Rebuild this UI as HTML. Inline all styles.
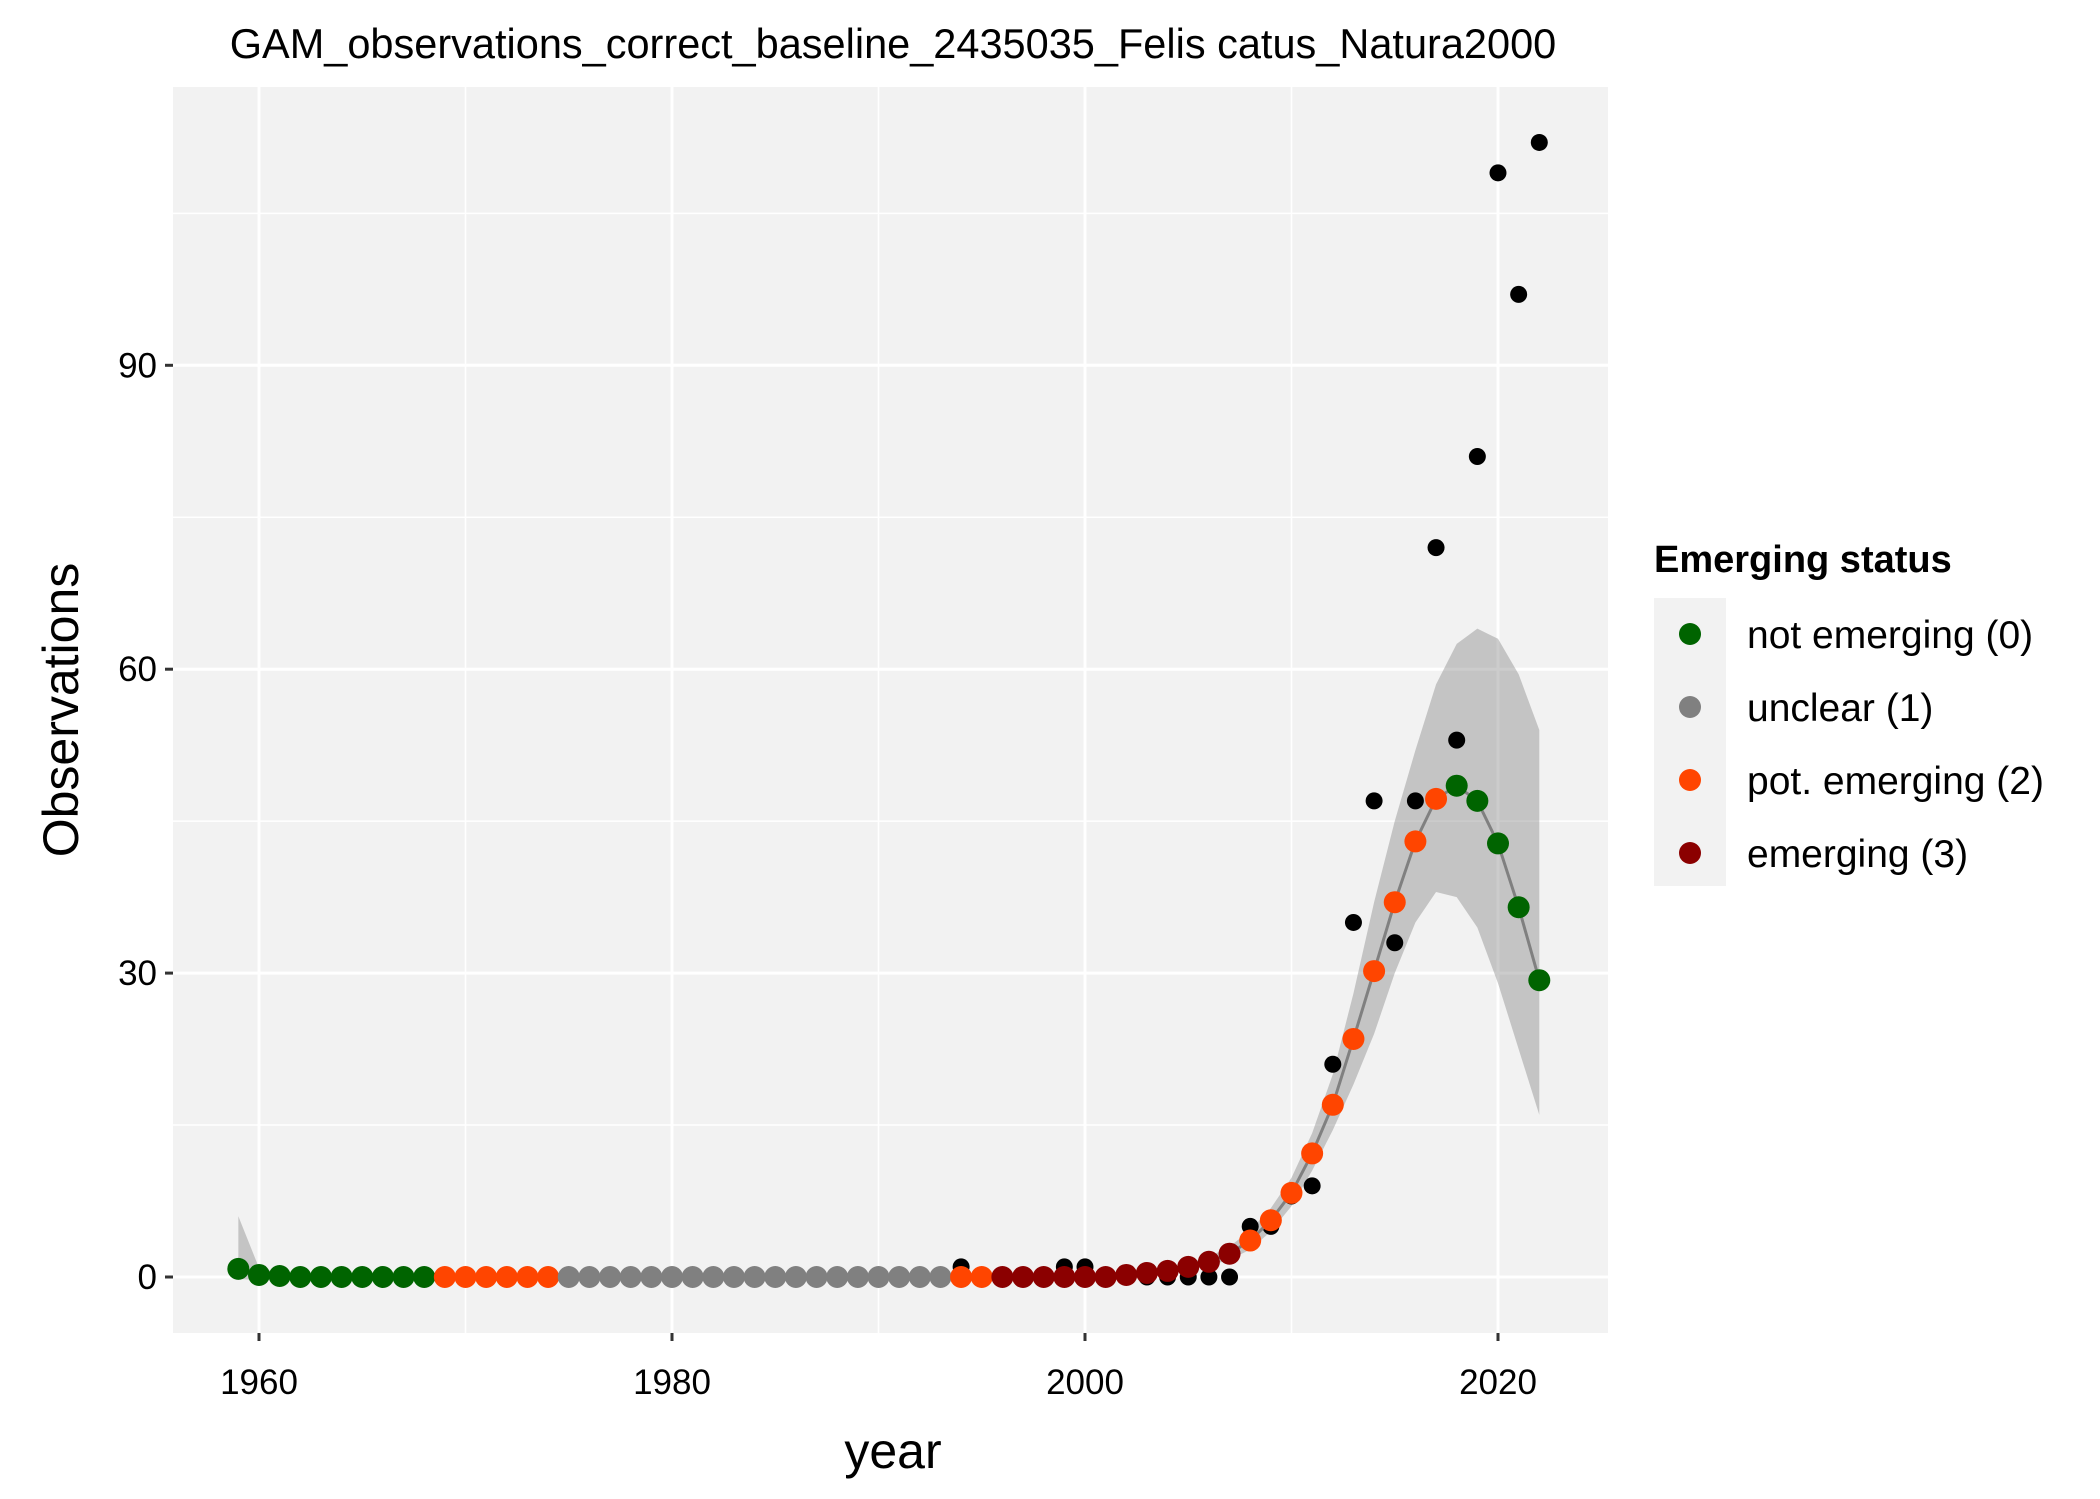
<!DOCTYPE html>
<html><head><meta charset="utf-8"><style>
body{margin:0;background:#fff}
svg{display:block;font-family:"Liberation Sans",Arial,sans-serif}
</style></head><body>
<svg id="chart" width="2100" height="1499" viewBox="0 0 2100 1499">
<text x="893" y="58" font-size="41.5" text-anchor="middle">GAM_observations_correct_baseline_2435035_Felis catus_Natura2000</text>
<rect x="173" y="87" width="1435" height="1246" fill="#f2f2f2"/>
<g id="grid"></g>
<g id="ribbonG"></g>
<g id="obsG"></g>
<g id="lineG"></g>
<g id="fitG"></g>
<g id="axes"></g>
<text x="893" y="1468" font-size="50" text-anchor="middle">year</text>
<text transform="translate(78,710) rotate(-90)" font-size="50" text-anchor="middle">Observations</text>
<g>
<text x="1654" y="572" font-size="38" font-weight="bold">Emerging status</text>
<rect x="1654" y="598" width="72" height="288" fill="#f2f2f2"/>
<g id="legendG"></g>
</g>
</svg>
<script>
const years=[];for(let y=1959;y<=2022;y++)years.push(y);
const fitted=[0.8,0.2,0.1,0,0,0,0,0,0,0, 0,0,0,0,0,0,0,0,0,0, 0,0,0,0,0,0,0,0,0,0, 0,0,0,0,0,0,0,0,0,0, 0,0,0,0.2,0.4,0.6,1.0,1.5,2.3,3.6, 5.6,8.3,12.2,17,23.5,30.2,37,43,47.2,48.5, 47,42.8,36.5,29.3];
const status=[0,0,0,0,0,0,0,0,0,0, 2,2,2,2,2,2,1,1,1,1, 1,1,1,1,1,1,1,1,1,1, 1,1,1,1,1,2,2,3,3,3, 3,3,3,3,3,3,3,3,3,2, 2,2,2,2,2,2,2,2,2,0, 0,0,0,0];
const observed=[1,0,0,0,0,0,0,0,0,0, 0,0,0,0,0,0,0,0,0,0, 0,0,0,0,0,0,0,0,0,0, 0,0,0,0,0,1,0,0,0,0, 1,1,0,0,0,0,0,0,0,5, 5,8,9,21,35,47,33,47,72,53, 81,109,97,112];
const upper=[6,0.9,0.4,0.2,0.1,0.1,0.1,0.1,0.1,0.1, 0.1,0.1,0.1,0.1,0.1,0.1,0.1,0.1,0.1,0.1, 0.1,0.1,0.1,0.1,0.1,0.1,0.1,0.1,0.1,0.1, 0.1,0.1,0.1,0.1,0.1,0.1,0.1,0.1,0.1,0.1, 0.1,0.2,0.3,0.4,0.6,0.9,1.4,2.0,3.0,4.6, 6.8,9.8,14.2,20,28,37,45,52,58.5,62.5, 64,63,59.5,54];
const lower=[-0.2,-0.3,-0.2,-0.1,-0.1,-0.1,-0.1,-0.1,-0.1,-0.1, -0.1,-0.1,-0.1,-0.1,-0.1,-0.1,-0.1,-0.1,-0.1,-0.1, -0.1,-0.1,-0.1,-0.1,-0.1,-0.1,-0.1,-0.1,-0.1,-0.1, -0.1,-0.1,-0.1,-0.1,-0.1,-0.1,-0.1,-0.1,-0.1,-0.1, -0.1,-0.1,0,0.05,0.2,0.4,0.7,1.1,1.7,2.7, 4.5,7,10.5,14.5,19,24,30,35,38,37.5, 34.5,29,22.5,16];
const xTicks=[1960,1980,2000,2020];
const xMinor=[1970,1990,2010];
const yTicks=[0,30,60,90];
const yMinor=[15,45,75,105];
const legendLabels=["not emerging (0)","unclear (1)","pot. emerging (2)","emerging (3)"];
const colors=["#006400","#808080","#FF4500","#8B0000"];
const NS="http://www.w3.org/2000/svg";
const X=v=>259+(v-1960)*20.65;
const Y=v=>1277-v*10.13;
function mk(tag,attrs,parent){const e=document.createElementNS(NS,tag);for(const k in attrs)e.setAttribute(k,attrs[k]);document.getElementById(parent).appendChild(e);return e;}
xMinor.forEach(v=>{const e=mk('line',{x1:X(v),x2:X(v),y1:87,y2:1333,stroke:'#fff','stroke-width':1.5},'grid');

});
yMinor.forEach(v=>{const e=mk('line',{x1:173,x2:1608,y1:Y(v),y2:Y(v),stroke:'#fff','stroke-width':1.5},'grid');

});
xTicks.forEach(v=>{const e=mk('line',{x1:X(v),x2:X(v),y1:87,y2:1333,stroke:'#fff','stroke-width':3},'grid');


const t=mk('line',{x1:X(v),x2:X(v),y1:1333,y2:1341,stroke:'#333','stroke-width':3},'axes');


const l=mk('text',{x:X(v),y:1394,'font-size':35,'text-anchor':'middle',fill:'#000'},'axes');l.textContent=v;

});
yTicks.forEach(v=>{const e=mk('line',{x1:173,x2:1608,y1:Y(v),y2:Y(v),stroke:'#fff','stroke-width':3},'grid');


const t=mk('line',{x1:165,x2:173,y1:Y(v),y2:Y(v),stroke:'#333','stroke-width':3},'axes');


const l=mk('text',{x:157,y:Y(v)+12,'font-size':35,'text-anchor':'end',fill:'#000'},'axes');l.textContent=v;

});
observed.forEach((v,i)=>{const c=mk('circle',{cx:X(years[i]),cy:Y(v),r:8.5,fill:'#000'},'obsG');

});
let pts=years.map((y,i)=>X(y)+','+Y(upper[i])).concat(years.map((y,i)=>X(y)+','+Y(lower[i])).reverse());
const rb=mk('polygon',{points:pts.join(' '),fill:'#7f7f7f','fill-opacity':0.4},'ribbonG');


const ln=mk('polyline',{points:years.map((y,i)=>X(y)+','+Y(fitted[i])).join(' '),fill:'none',stroke:'#808080','stroke-width':3},'lineG');


fitted.forEach((v,i)=>{const c=mk('circle',{cx:X(years[i]),cy:Y(v),r:11,fill:colors[status[i]]},'fitG');

});
legendLabels.forEach((s,i)=>{const y=634+i*73;
const c=mk('circle',{cx:1690,cy:y,r:11,fill:colors[i]},'legendG');


const t=mk('text',{x:1747,y:y+14,'font-size':39},'legendG');t.textContent=s;

});
</script>
</body></html>
